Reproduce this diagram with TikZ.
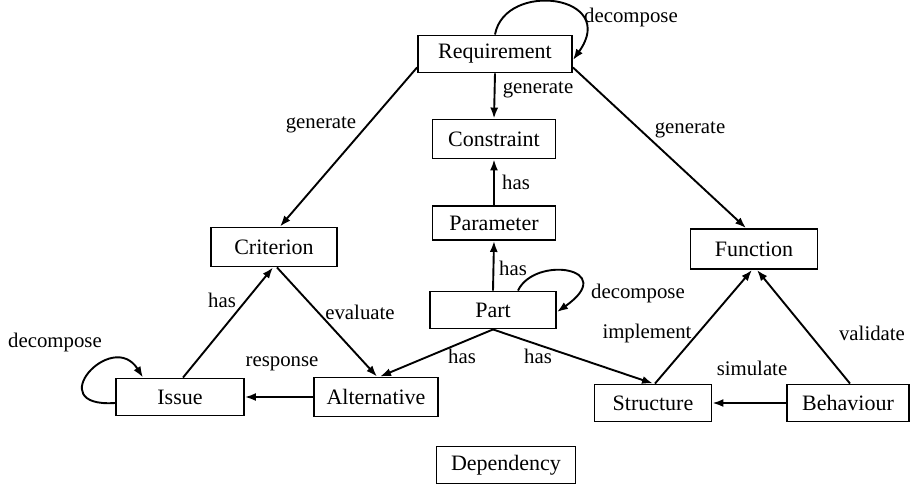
\documentclass[tikz,border=0pt]{standalone}
\usepackage{fontspec}
\setmainfont{Liberation Serif}
\usetikzlibrary{arrows.meta}

\begin{document}
\begin{tikzpicture}[x=1pt, y=-1pt, line width=1.9pt,
	box/.style={draw, minimum height=37pt, inner sep=2pt, font=\fontsize{22}{25}\selectfont},
	lbl/.style={font=\fontsize{20.8}{24}\selectfont, inner sep=0pt},
	>={Latex[length=11pt,width=8pt]}]
	\useasboundingbox (0,0) rectangle (911,488);
	\node[box, minimum width=154pt] (req) at (495,54) {Requirement};
	\node[box, minimum width=123pt, minimum height=39pt] (con) at (494,139) {Constraint};
	\node[box, minimum width=123pt, minimum height=34pt] (par) at (494,223) {Parameter};
	\node[box, minimum width=126pt] (part) at (493,310) {Part};
	\node[box, minimum width=126pt, minimum height=39pt] (crit) at (274,247) {Criterion};
	\node[box, minimum width=124pt, minimum height=39pt] (alt) at (376,397) {Alternative};
	\node[box, minimum width=128pt] (iss) at (180,397) {Issue};
	\node[box, minimum width=127pt, minimum height=40pt] (fun) at (754,249) {Function};
	\node[box, minimum width=117pt] (str) at (653,403) {Structure};
	\node[box, minimum width=122pt] (beh) at (848,403) {Behaviour};
	\node[box, minimum width=139pt] (dep) at (506,465) {Dependency};
	% connectors
	\draw[->] (req.north) .. controls (505,-20) and (620,-5) .. ([yshift=-6pt]req.east);
	\draw[->] (req.south) -- (con.north);
	\draw[->] ([yshift=6pt]req.south west) -- ([xshift=6pt]crit.north);
	\draw[->] ([yshift=6pt]req.south east) -- ([xshift=-8pt]fun.north);
	\draw[->] (par.north) -- (con.south);
	\draw[->] (part.north) -- (par.south);
	\draw[->] ([xshift=25pt]part.north) .. controls (535,255) and (620,268) .. ([yshift=-2pt]part.east);
	\draw[->] (part.south) -- ([xshift=4pt]alt.north);
	\draw[->] (part.south) -- (str.north);
	\draw[->] ([xshift=3pt]crit.south) -- ([xshift=1pt]alt.north);
	\draw[->] ([xshift=3pt]iss.north) -- ([xshift=-1pt]crit.south);
	\draw[->] (alt.west) -- (iss.east);
	\draw[->] ([yshift=-6pt]iss.west) .. controls (40,408) and (112,328) .. ([xshift=-37pt]iss.north);
	\draw[->] ([xshift=2pt]str.north) -- ([xshift=-2pt]fun.south);
	\draw[->] ([xshift=2pt]beh.north) -- ([xshift=3pt]fun.south);
	\draw[->] (beh.west) -- (str.east);
	% labels
	\node[lbl] (l-dec1) at (631,17) {decompose};
	\node[lbl] (l-gen1) at (538,90) {generate};
	\node[lbl] (l-gen2) at (321,125) {generate};
	\node[lbl] (l-gen3) at (690,130) {generate};
	\node[lbl] (l-has1) at (516,182) {has};
	\node[lbl] (l-has2) at (513,268) {has};
	\node[lbl] (l-dec2) at (638,293) {decompose};
	\node[lbl] (l-has3) at (222,300) {has};
	\node[lbl] (l-eval) at (360,312) {evaluate};
	\node[lbl] (l-resp) at (282,364) {response};
	\node[lbl] (l-has4) at (462,356) {has};
	\node[lbl] (l-has5) at (538,356) {has};
	\node[lbl] (l-dec3) at (55,342) {decompose};
	\node[lbl] (l-impl) at (647,333) {implement};
	\node[lbl] (l-val) at (872,333) {validate};
	\node[lbl] (l-sim) at (752,368) {simulate};
\end{tikzpicture}
\end{document}
